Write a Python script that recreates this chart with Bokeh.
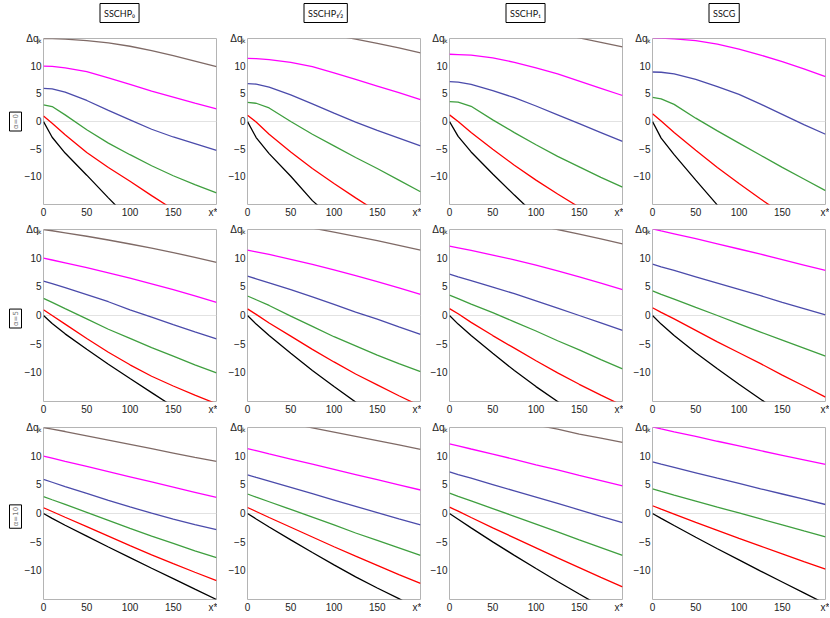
from bokeh.plotting import figure
from bokeh.layouts import column, row
from bokeh.models import FixedTicker, Span, Title, Range1d
from bokeh.embed import file_html
from bokeh.resources import INLINE

# ---------------- data ----------------
x_star = [0, 10, 25, 50, 75, 100, 125, 150, 175, 200]
column_titles = ["SSCHP₀", "SSCHP₁⁄₂", "SSCHP₁", "SSCG"]
row_titles = ["α=0", "α=5", "α=10"]
x_ticks = [0, 50, 100, 150, 200]
y_ticks = [-10, -5, 0, 5, 10, 15]
x_tick_text = {200: "x*"}
y_tick_text = {15: "Δqₖ"}
curve_colors = ["#000000", "#ff0000", "#3f9f3f", "#4b4bab", "#ff00ff", "#7f6a66"]

# alpha = 0 ; columns SSCHP0, SSCHP1/2, SSCHP1, SSCG ; curves k0..k5
a0_c0_k0 = [0, -2.85, -5.7, -9.7, -13.8, -17.8]
a0_c0_k1 = [1, -0.3, -2.4, -5.6, -8.3, -10.8, -13.4, -15.9]
a0_c0_k2 = [3, 2.7, 1.2, -1.5, -3.9, -6.0, -8.0, -9.8, -11.4, -12.9]
a0_c0_k3 = [6, 5.9, 5.3, 3.8, 2.0, 0.3, -1.4, -2.8, -4.0, -5.2]
a0_c0_k4 = [10, 9.97, 9.7, 9.0, 7.9, 6.7, 5.5, 4.4, 3.3, 2.3]
a0_c0_k5 = [15, 15, 14.9, 14.6, 14.2, 13.6, 12.8, 11.9, 10.9, 9.9]

a0_c1_k0 = [0, -2.9, -5.8, -9.9, -14.3, -17.8]
a0_c1_k1 = [1.15, -0.1, -2.3, -5.5, -8.5, -11.2, -13.8, -16.3]
a0_c1_k2 = [3.45, 3.3, 2.45, 0.0, -2.3, -4.4, -6.5, -8.5, -10.6, -12.7]
a0_c1_k3 = [6.85, 6.75, 6.2, 4.8, 3.2, 1.5, -0.1, -1.6, -3.0, -4.4]
a0_c1_k4 = [11.4, 11.35, 11.2, 10.7, 9.9, 8.8, 7.6, 6.4, 5.2, 3.95]
a0_c1_k5 = [17.0, 17.0, 16.9, 16.6, 16.2, 15.6, 14.9, 14.1, 13.3, 12.4]

a0_c2_k0 = [0, -2.7, -5.5, -9.5, -13.3, -17.0]
a0_c2_k1 = [1.2, 0.0, -2.0, -5.0, -7.9, -10.6, -13.1, -15.5]
a0_c2_k2 = [3.6, 3.5, 2.75, 0.3, -2.0, -4.2, -6.3, -8.2, -10.1, -11.85]
a0_c2_k3 = [7.2, 7.1, 6.7, 5.6, 4.3, 2.8, 1.2, -0.4, -2.0, -3.6]
a0_c2_k4 = [12.15, 12.1, 12.0, 11.5, 10.7, 9.7, 8.6, 7.3, 6.0, 4.7]
a0_c2_k5 = [18.1, 18.1, 18.0, 17.7, 17.3, 16.8, 16.0, 15.1, 14.3, 13.5]

a0_c3_k0 = [0, -3.0, -6.0, -10.6, -15.1]
a0_c3_k1 = [1.4, 0.1, -2.0, -5.2, -8.3, -11.2, -14.0, -16.7]
a0_c3_k2 = [4.35, 4.1, 3.1, 0.6, -1.7, -3.9, -6.1, -8.3, -10.4, -12.5]
a0_c3_k3 = [8.95, 8.9, 8.6, 7.6, 6.3, 4.9, 3.15, 1.3, -0.55, -2.3]
a0_c3_k4 = [15.1, 15.08, 14.95, 14.6, 14.0, 13.1, 12.0, 10.8, 9.5, 8.1]

# alpha = 5
a5_c0_k0 = [0, -1.4, -3.2, -5.9, -8.5, -11.0, -13.45, -15.9]
a5_c0_k1 = [1.0, 0.0, -1.5, -4.0, -6.4, -8.6, -10.6, -12.3, -13.9, -15.4]
a5_c0_k2 = [3.0, 2.3, 1.2, -0.6, -2.4, -4.0, -5.6, -7.1, -8.6, -10.0]
a5_c0_k3 = [6.0, 5.55, 4.85, 3.65, 2.4, 1.0, -0.3, -1.6, -2.85, -4.07]
a5_c0_k4 = [10.0, 9.68, 9.19, 8.34, 7.44, 6.5, 5.52, 4.5, 3.42, 2.3]
a5_c0_k5 = [15.0, 14.78, 14.43, 13.82, 13.17, 12.47, 11.74, 10.97, 10.15, 9.25]

a5_c1_k0 = [0, -1.5, -3.5, -6.6, -9.6, -12.4, -15.1, -17.7]
a5_c1_k1 = [1.15, 0.2, -1.3, -3.6, -5.9, -8.1, -10.2, -12.1, -14.0, -15.8]
a5_c1_k2 = [3.4, 2.75, 1.75, -0.1, -1.9, -3.7, -5.3, -6.9, -8.4, -9.8]
a5_c1_k3 = [6.85, 6.4, 5.7, 4.5, 3.25, 1.95, 0.6, -0.65, -2.0, -3.3]
a5_c1_k4 = [11.4, 11.1, 10.65, 9.8, 8.9, 7.95, 6.95, 5.9, 4.8, 3.7]
a5_c1_k5 = [17.0, 16.8, 16.45, 15.85, 15.25, 14.55, 13.8, 13.05, 12.25, 11.4]

a5_c2_k0 = [0, -1.5, -3.5, -6.6, -9.6, -12.4, -15.0, -17.6]
a5_c2_k1 = [1.2, 0.3, -1.2, -3.5, -5.7, -7.9, -10.0, -12.0, -13.9, -15.7]
a5_c2_k2 = [3.55, 2.95, 2.0, 0.5, -1.1, -2.7, -4.4, -6.0, -7.7, -9.3]
a5_c2_k3 = [7.2, 6.75, 6.1, 4.95, 3.8, 2.55, 1.3, 0.0, -1.3, -2.6]
a5_c2_k4 = [12.1, 11.8, 11.35, 10.55, 9.7, 8.8, 7.8, 6.75, 5.65, 4.5]
a5_c2_k5 = [18.1, 17.9, 17.6, 17.05, 16.4, 15.75, 15.0, 14.2, 13.35, 12.5]

a5_c3_k0 = [0, -1.5, -3.5, -6.5, -9.3, -12.0, -14.6, -17.2]
a5_c3_k1 = [1.35, 0.55, -0.6, -2.6, -4.6, -6.5, -8.4, -10.4, -12.3, -14.25]
a5_c3_k2 = [4.3, 3.7, 2.85, 1.4, 0.0, -1.45, -2.9, -4.3, -5.7, -7.1]
a5_c3_k3 = [8.95, 8.5, 7.85, 6.75, 5.65, 4.55, 3.45, 2.3, 1.2, 0.1]
a5_c3_k4 = [15.1, 14.75, 14.25, 13.4, 12.5, 11.6, 10.7, 9.75, 8.8, 7.85]

# alpha = 10
a10_c0_k0 = [0, -0.85, -2.05, -3.95, -5.85, -7.7, -9.55, -11.35, -13.2, -15.0]
a10_c0_k1 = [1.0, 0.35, -0.65, -2.3, -3.95, -5.6, -7.2, -8.75, -10.25, -11.7]
a10_c0_k2 = [2.95, 2.4, 1.6, 0.2, -1.2, -2.6, -3.95, -5.2, -6.5, -7.7]
a10_c0_k3 = [5.95, 5.45, 4.7, 3.5, 2.3, 1.15, 0.05, -1.0, -1.95, -2.8]
a10_c0_k4 = [10.0, 9.65, 9.1, 8.2, 7.3, 6.4, 5.5, 4.6, 3.7, 2.8]
a10_c0_k5 = [15.0, 14.72, 14.3, 13.55, 12.8, 12.05, 11.3, 10.55, 9.8, 9.1]

a10_c1_k0 = [0, -0.95, -2.35, -4.6, -6.8, -8.95, -11.05, -13.0, -14.85, -16.9]
a10_c1_k1 = [1.05, 0.35, -0.7, -2.4, -4.1, -5.8, -7.45, -9.05, -10.65, -12.2]
a10_c1_k2 = [3.4, 2.85, 2.05, 0.7, -0.65, -2.0, -3.4, -4.7, -6.0, -7.3]
a10_c1_k3 = [6.75, 6.3, 5.65, 4.55, 3.45, 2.35, 1.25, 0.15, -0.95, -2.0]
a10_c1_k4 = [11.3, 10.95, 10.4, 9.5, 8.6, 7.7, 6.8, 5.9, 5.0, 4.1]
a10_c1_k5 = [17.2, 16.9, 16.45, 15.7, 14.95, 14.2, 13.45, 12.7, 11.95, 11.2]

a10_c2_k0 = [0, -1.0, -2.5, -4.95, -7.3, -9.6, -11.85, -14.05, -16.2]
a10_c2_k1 = [1.1, 0.4, -0.7, -2.5, -4.25, -6.0, -7.75, -9.45, -11.15, -12.8]
a10_c2_k2 = [3.55, 3.0, 2.2, 0.85, -0.5, -1.85, -3.2, -4.6, -5.95, -7.3]
a10_c2_k3 = [7.25, 6.8, 6.15, 5.05, 3.95, 2.85, 1.75, 0.65, -0.5, -1.6]
a10_c2_k4 = [12.15, 11.8, 11.25, 10.35, 9.45, 8.5, 7.6, 6.65, 5.75, 4.8]
a10_c2_k5 = [18.1, 17.85, 17.5, 16.85, 16.15, 15.45, 14.7, 13.85, 13.15, 12.4]

a10_c3_k0 = [0, -0.85, -2.1, -4.15, -6.15, -8.1, -10.05, -11.95, -13.85, -15.75]
a10_c3_k1 = [1.35, 0.75, -0.1, -1.55, -2.95, -4.35, -5.7, -7.05, -8.4, -9.7]
a10_c3_k2 = [4.3, 3.85, 3.2, 2.15, 1.1, 0.1, -0.95, -2.0, -3.05, -4.07]
a10_c3_k3 = [9.0, 8.6, 8.05, 7.1, 6.15, 5.25, 4.3, 3.4, 2.5, 1.57]
a10_c3_k4 = [15.1, 14.75, 14.25, 13.45, 12.6, 11.8, 10.95, 10.15, 9.35, 8.55]

panels = [
    [
        [a0_c0_k0, a0_c0_k1, a0_c0_k2, a0_c0_k3, a0_c0_k4, a0_c0_k5],
        [a0_c1_k0, a0_c1_k1, a0_c1_k2, a0_c1_k3, a0_c1_k4, a0_c1_k5],
        [a0_c2_k0, a0_c2_k1, a0_c2_k2, a0_c2_k3, a0_c2_k4, a0_c2_k5],
        [a0_c3_k0, a0_c3_k1, a0_c3_k2, a0_c3_k3, a0_c3_k4],
    ],
    [
        [a5_c0_k0, a5_c0_k1, a5_c0_k2, a5_c0_k3, a5_c0_k4, a5_c0_k5],
        [a5_c1_k0, a5_c1_k1, a5_c1_k2, a5_c1_k3, a5_c1_k4, a5_c1_k5],
        [a5_c2_k0, a5_c2_k1, a5_c2_k2, a5_c2_k3, a5_c2_k4, a5_c2_k5],
        [a5_c3_k0, a5_c3_k1, a5_c3_k2, a5_c3_k3, a5_c3_k4],
    ],
    [
        [a10_c0_k0, a10_c0_k1, a10_c0_k2, a10_c0_k3, a10_c0_k4, a10_c0_k5],
        [a10_c1_k0, a10_c1_k1, a10_c1_k2, a10_c1_k3, a10_c1_k4, a10_c1_k5],
        [a10_c2_k0, a10_c2_k1, a10_c2_k2, a10_c2_k3, a10_c2_k4, a10_c2_k5],
        [a10_c3_k0, a10_c3_k1, a10_c3_k2, a10_c3_k3, a10_c3_k4],
    ],
]

# ---------------- layout constants ----------------
HAS_PAD = "padding" in Title.properties()
TICK_FONT = "Liberation Sans"
FRAME_W = 173
FRAME_H = 172
COL_LEFT = [43, 30, 28, 29]
COL_RIGHT = [1, 1, 1, 4]
ROW_TOP = [32, 8, 8]
ROW_BOTTOM = [17, 18, 18]
TITLE_PAD = 4
ROW_PAD = 2
ROW_TEXT_LEN = [15, 15, 19.5]


def boxed_title(text, font, size, color, pad, **kw):
    t = Title(text=text, text_font=font, text_font_size=size,
              text_font_style="normal", text_color=color,
              border_line_color="black", border_line_width=1,
              background_fill_color="white", **kw)
    if HAS_PAD:
        t.padding = pad
    return t


def make_panel(r, c, curves):
    top, bottom = ROW_TOP[r], ROW_BOTTOM[r]
    left, right = COL_LEFT[c], COL_RIGHT[c]
    p = figure(width=left + FRAME_W + right, height=top + FRAME_H + bottom,
               x_range=Range1d(0, 200), y_range=Range1d(-15, 15),
               output_backend="svg", toolbar_location=None,
               min_border_left=left, min_border_right=right,
               min_border_top=top, min_border_bottom=bottom,
               background_fill_color="white", border_fill_color="white")
    p.outline_line_color = "#b4b4b4"
    p.outline_line_width = 1
    p.grid.visible = False

    for ax, ticks, over in ((p.xaxis[0], x_ticks, x_tick_text),
                            (p.yaxis[0], y_ticks, y_tick_text)):
        ax.ticker = FixedTicker(ticks=ticks)
        ax.major_label_overrides = over
        ax.axis_line_color = None
        ax.major_tick_line_color = None
        ax.minor_tick_line_color = None
        ax.major_tick_out = 0
        ax.major_tick_in = 0
        ax.minor_tick_out = 0
        ax.minor_tick_in = 0
        ax.major_label_text_font = TICK_FONT
        ax.major_label_text_font_size = "10px"
        ax.major_label_text_color = "#222222"
        ax.major_label_standoff = 2

    p.add_layout(Span(location=0, dimension="width", line_color="#e2e2e2",
                      line_width=1, level="underlay"))

    for k, vals in enumerate(curves):
        p.line(x_star[:len(vals)], vals, line_color=curve_colors[k],
               line_width=1.3)

    if r == 0:
        pad = TITLE_PAD if HAS_PAD else 0
        # invisible spacer between frame and the boxed column title
        p.add_layout(Title(text=" ", text_font_size="1px", standoff=12), "above")
        p.add_layout(boxed_title(column_titles[c], "Lato", "9px", "#111111",
                                 TITLE_PAD, align="left", standoff=2,
                                 offset=52.5 + pad), "above")
    if c == 0:
        off = FRAME_H / 2 - 5 - ROW_TEXT_LEN[r] / 2
        p.add_layout(boxed_title(row_titles[r], "DejaVu Sans", "7px", "#777777",
                                 ROW_PAD, align="left", standoff=0,
                                 offset=off), "left")
    return p


rows = []
for r in range(3):
    rows.append(row(*[make_panel(r, c, panels[r][c]) for c in range(4)],
                    spacing=0))
layout = column(*rows, spacing=0)

open("out.html", "w").write(file_html(layout, INLINE))
